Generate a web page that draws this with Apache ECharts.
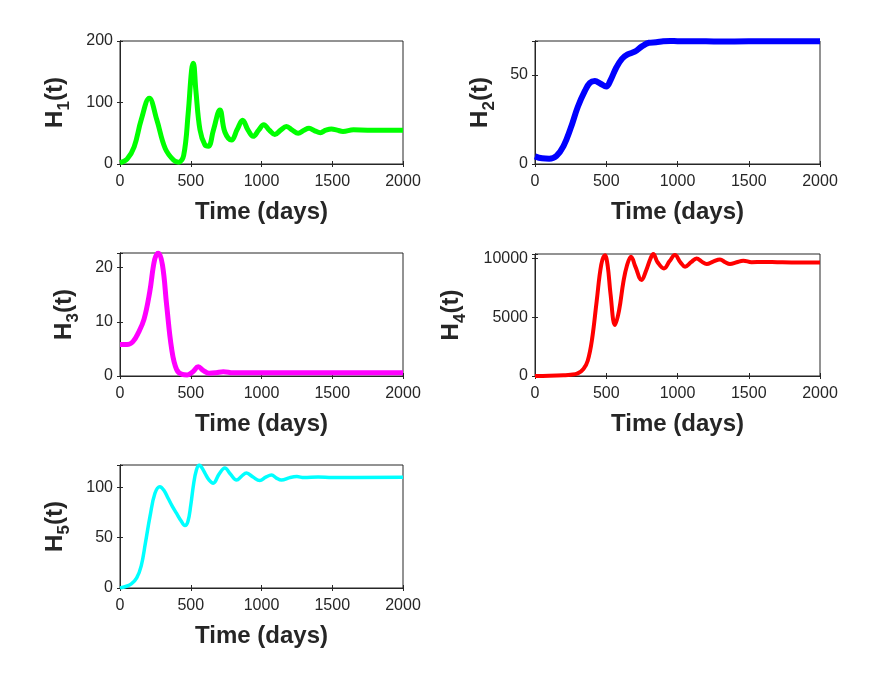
<!DOCTYPE html>
<html>
<head>
<meta charset="utf-8">
<title>H(t) subplots</title>
<script src="https://cdn.jsdelivr.net/npm/echarts@6/dist/echarts.min.js"></script>
<style>
    html, body { margin: 0; padding: 0; background: #fff; }
    #chart { width: 880px; height: 694px; }
</style>
</head>
<body>
<div id="chart"></div>
<script>
// x axis ticks (days)
var xTicks = [0, 500, 1000, 1500, 2000];

// H1(t) - green
var h1Days = [0, 50, 100, 150, 207, 260, 320, 380, 415, 450, 482, 506, 518, 536, 565, 600, 625, 660, 706, 741, 788, 828, 866, 905, 941, 980, 1016, 1055, 1094, 1135, 1176, 1218, 1259, 1300, 1336, 1376, 1416, 1455, 1494, 1535, 1576, 1650, 1750, 1850, 2000];
var h1Vals = [2, 8, 28, 72, 107, 72, 25, 6, 3, 14, 83, 153, 164, 120, 56, 31, 29, 55, 88, 52, 39, 56, 71, 55, 45, 55, 64, 55, 48, 55, 61, 55, 50, 55, 58, 54, 51, 55, 57, 55, 53, 55.5, 55, 55, 55];

// H2(t) - blue
var h2Days = [0, 50, 100, 150, 200, 250, 300, 350, 385, 420, 460, 500, 530, 570, 610, 650, 700, 750, 800, 850, 900, 950, 1000, 1100, 1300, 1500, 2000];
var h2Vals = [4.3, 3.2, 3.0, 4.5, 10, 20, 32, 41, 45.5, 46.5, 45, 43.5, 47, 54, 59, 61.5, 63, 66, 68, 68.3, 68.8, 69, 68.9, 68.9, 68.7, 68.8, 68.8];

// H3(t) - magenta
var h3Days = [0, 50, 90, 130, 170, 210, 245, 271, 300, 330, 365, 400, 440, 475, 515, 553, 590, 630, 680, 730, 800, 900, 2000];
var h3Vals = [5.8, 5.8, 6.3, 8.0, 10.5, 15.5, 21.5, 22.7, 20.5, 13, 5, 1.2, 0.3, 0.2, 0.8, 1.7, 1.0, 0.5, 0.6, 0.8, 0.6, 0.6, 0.6];

// H4(t) - red
var h4Days = [0, 100, 200, 250, 300, 340, 370, 400, 433, 465, 491, 510, 530, 561, 590, 620, 645, 674, 705, 748, 780, 810, 830, 860, 905, 945, 982, 1020, 1053, 1095, 1134, 1170, 1205, 1250, 1298, 1335, 1368, 1415, 1462, 1520, 1600, 1700, 1800, 2000];
var h4Vals = [0, 20, 60, 100, 220, 600, 1300, 3100, 6400, 9500, 10300, 9400, 7000, 4350, 5600, 8000, 9400, 10170, 9300, 8180, 9000, 10000, 10390, 9700, 9170, 9800, 10310, 9700, 9320, 9700, 10025, 9750, 9540, 9750, 9940, 9700, 9540, 9700, 9830, 9700, 9720, 9700, 9680, 9680];

// H5(t) - cyan
var h5Days = [0, 40, 80, 118, 150, 180, 212, 247, 282, 310, 340, 370, 400, 430, 459, 480, 500, 520, 540, 560, 580, 600, 630, 659, 700, 741, 780, 824, 860, 894, 940, 988, 1030, 1071, 1105, 1141, 1200, 1250, 1300, 1400, 1500, 2000];
var h5Vals = [0, 1.5, 4, 10, 22, 45, 71, 94, 100.5, 97, 89, 81, 74, 67, 62, 66, 82, 103, 117, 122, 119, 114, 107, 104, 113, 119, 113, 107, 111, 114, 110, 106.6, 110, 112, 109, 107, 109.5, 110.5, 109.5, 110, 109.6, 109.8];

// y axis ranges / ticks
var yMax = [200, 69, 22.7, 10400, 122];
var yStep = [100, 50, 10, 5000, 50];
var yNames = ['1', '2', '3', '4', '5'];

var FONT = 'Liberation Sans';
var INK = '#262626';

/** layout of the five axes boxes */
var boxes = [
    {left: 120, top: 41, width: 283, height: 123},
    {left: 535, top: 41, width: 285, height: 123},
    {left: 120, top: 253, width: 283, height: 123},
    {left: 535, top: 254, width: 285, height: 122},
    {left: 120, top: 465, width: 283, height: 123}
];
var yNameGap = [51, 41, 42, 70, 51];

var series = [
    {days: h1Days, vals: h1Vals, color: '#00ff00', width: 5},
    {days: h2Days, vals: h2Vals, color: '#0000ff', width: 6},
    {days: h3Days, vals: h3Vals, color: '#ff00ff', width: 5},
    {days: h4Days, vals: h4Vals, color: '#ff0000', width: 4},
    {days: h5Days, vals: h5Vals, color: '#00ffff', width: 3.5}
];

function pairs(xs, ys) {
    var out = [];
    for (var i = 0; i < xs.length; i++) {
        out.push([xs[i], ys[i]]);
    }
    return out;
}

var grid = [], xAxis = [], yAxis = [], seriesList = [];

for (var i = 0; i < 5; i++) {
    grid.push({
        left: boxes[i].left, top: boxes[i].top,
        width: boxes[i].width, height: boxes[i].height,
        show: true, borderColor: INK, borderWidth: 1, backgroundColor: '#fff'
    });

    var step = yStep[i];
    // bottom x axis with labels
    xAxis.push({
        type: 'value', gridIndex: i, position: 'bottom',
        min: xTicks[0], max: xTicks[xTicks.length - 1], interval: xTicks[1] - xTicks[0],
        axisLine: {lineStyle: {color: INK, width: 1}},
        axisTick: {inside: true, length: 3, lineStyle: {color: INK}},
        axisLabel: {
            fontSize: 16, color: INK, fontFamily: FONT, margin: 10,
            formatter: function (v) { return String(v); }
        },
        splitLine: {show: false},
        name: 'Time (days)', nameLocation: 'middle', nameGap: 36,
        nameTextStyle: {fontSize: 24, fontWeight: 'bold', color: INK, fontFamily: FONT}
    });
    // top mirror (ticks only)
    xAxis.push({
        type: 'value', gridIndex: i, position: 'top',
        min: xTicks[0], max: xTicks[xTicks.length - 1], interval: xTicks[1] - xTicks[0],
        axisLine: {lineStyle: {color: INK, width: 1}},
        axisTick: {inside: true, length: 3, lineStyle: {color: INK}},
        axisLabel: {show: false},
        splitLine: {show: false}
    });
    // left y axis with labels; subscript pushed down with top padding
    yAxis.push({
        type: 'value', gridIndex: i, position: 'left',
        min: 0, max: yMax[i], interval: step,
        axisLine: {show: true, lineStyle: {color: INK, width: 1}},
        axisTick: {show: true, inside: true, length: 3, lineStyle: {color: INK}},
        axisLabel: {
            fontSize: 16, color: INK, fontFamily: FONT, margin: 7,
            formatter: (function (s) {
                return function (v) { return (v % s === 0) ? String(v) : ''; };
            })(step)
        },
        splitLine: {show: false},
        name: '{h|H}{s|' + yNames[i] + '}{h|(t)}',
        nameLocation: 'middle', nameGap: yNameGap[i],
        nameTextStyle: {
            rich: {
                h: {fontSize: 24, fontWeight: 'bold', color: INK, fontFamily: FONT, lineHeight: 28},
                s: {fontSize: 17, fontWeight: 'bold', color: INK, fontFamily: FONT, lineHeight: 17, padding: [18, 0, 0, 0]}
            }
        }
    });
    // right mirror
    yAxis.push({
        type: 'value', gridIndex: i, position: 'right',
        min: 0, max: yMax[i], interval: step,
        axisLine: {show: true, lineStyle: {color: INK, width: 1}},
        axisTick: {show: true, inside: true, length: 3, lineStyle: {color: INK}},
        axisLabel: {show: false},
        splitLine: {show: false}
    });

    seriesList.push({
        type: 'line',
        xAxisIndex: i * 2, yAxisIndex: i * 2,
        data: pairs(series[i].days, series[i].vals),
        smooth: 0.4,
        showSymbol: false,
        lineStyle: {color: series[i].color, width: series[i].width},
        itemStyle: {color: series[i].color}
    });
}

var chart = echarts.init(document.getElementById('chart'));
chart.setOption({
    animation: false,
    backgroundColor: '#fff',
    grid: grid,
    xAxis: xAxis,
    yAxis: yAxis,
    series: seriesList
});
</script>
</body>
</html>
